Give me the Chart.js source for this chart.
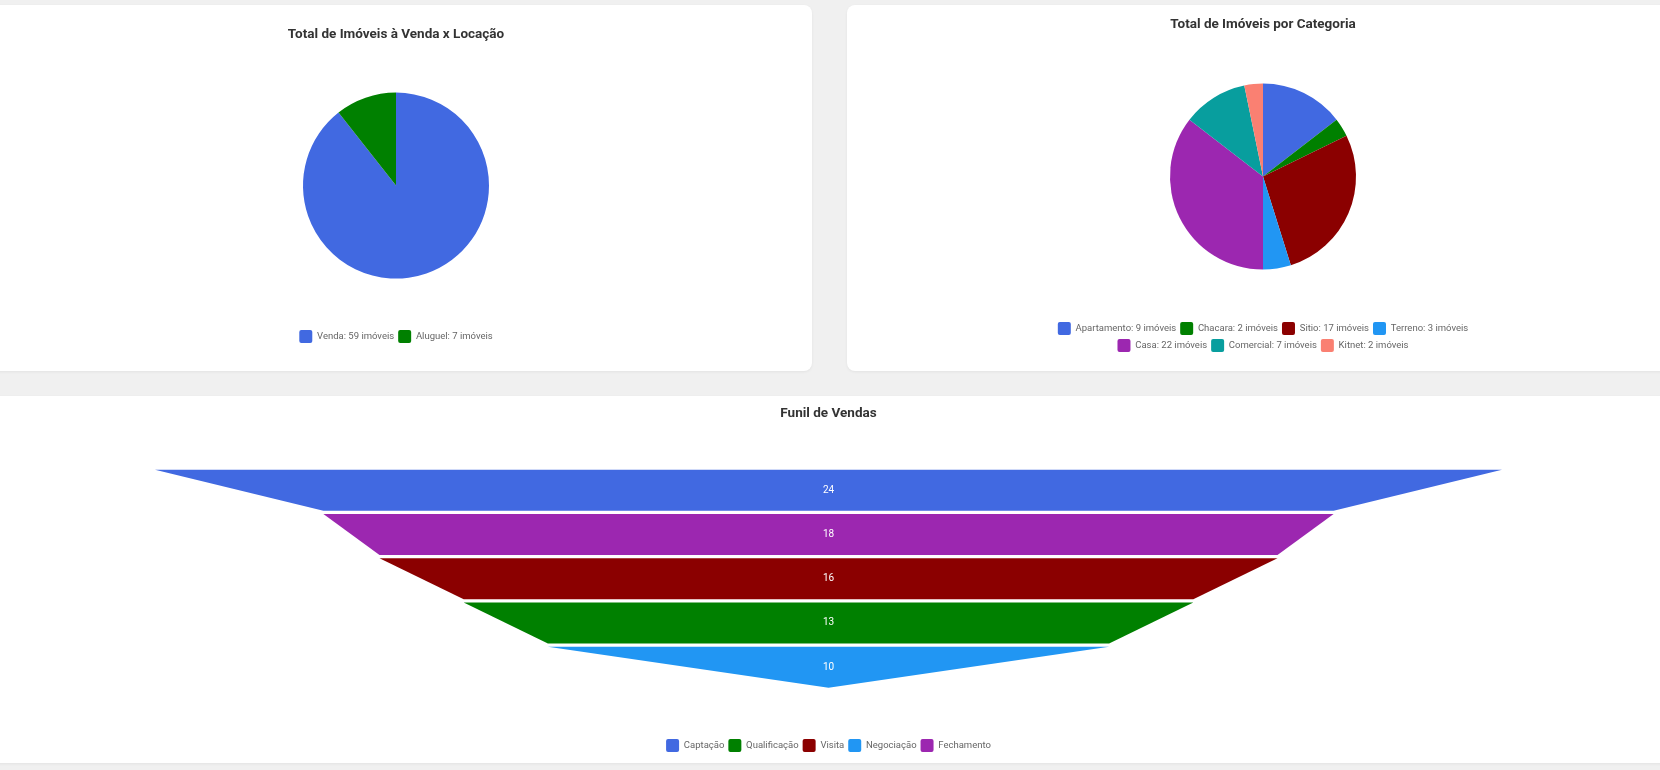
<!DOCTYPE html>
<html lang="pt-BR">
<head>
<meta charset="utf-8">
<title>Painel de Imóveis</title>
<script src="https://cdn.jsdelivr.net/npm/chart.js@4.4.1/dist/chart.umd.min.js"></script>
<style>
  html, body { margin: 0; padding: 0; width: 1660px; height: 770px; overflow: hidden; background: #f0f0f0; }
  .card { position: absolute; background: #fff; border-radius: 8px; box-shadow: 0 1px 3px rgba(0, 0, 0, 0.06); }
  .card .box { position: relative; width: 100%; height: 100%; }
  #card1 { left: -20px; top: 5px; width: 832px; height: 366px; }
  #card2 { left: 847px; top: 5px; width: 832px; height: 366px; }
  #card3 { left: -20px; top: 396px; width: 1700px; height: 367px; }
</style>
</head>
<body>
<div class="card" id="card1"><div class="box"><canvas id="tipoChart"></canvas></div></div>
<div class="card" id="card2"><div class="box"><canvas id="categoriaChart"></canvas></div></div>
<div class="card" id="card3"><div class="box"><canvas id="funilChart"></canvas></div></div>
<script>
// dados
const tipoLabels = ['Venda', 'Aluguel'];
const tipoValues = [59, 7];
const tipoColors = ['#4169E1', '#008000'];

const categoriaLabels = ['Apartamento', 'Chacara', 'Sitio', 'Terreno', 'Casa', 'Comercial', 'Kitnet'];
const categoriaValues = [9, 2, 17, 3, 22, 7, 2];
const categoriaColors = ['#4169E1', '#008000', '#8B0000', '#2196F3', '#9C27B0', '#089E9E', '#FA8072'];

const funilLabels = ['Captação', 'Qualificação', 'Visita', 'Negociação', 'Fechamento'];
const funilValues = [24, 13, 16, 10, 18];
const funilColors = ['#4169E1', '#008000', '#8B0000', '#2196F3', '#9C27B0'];

Chart.defaults.font.family = 'Roboto';
Chart.defaults.animation = false;

const titleFont = { family: 'Roboto', size: 13.5, weight: 'bold' };
const legendFont = { family: 'Roboto', size: 9.5 };

function legendLabels(extra) {
    return { boxWidth: 13, boxHeight: 13, padding: 4, useBorderRadius: true, borderRadius: 2, color: '#666', font: legendFont, ...extra };
}

function initPie(id, labels, values, colors, title, padding) {
    return new Chart(document.getElementById(id), {
        type: 'pie',
        data: { labels: labels, datasets: [{ data: values, backgroundColor: colors, borderWidth: 0, radius: 93 }] },
        options: {
            responsive: true, maintainAspectRatio: false,
            layout: { padding: padding },
            plugins: {
                title: { display: true, text: title, color: '#333', font: titleFont, padding: { top: 10, bottom: 2 } },
                legend: {
                    position: 'bottom',
                    labels: legendLabels({
                        generateLabels: chart => Chart.overrides.pie.plugins.legend.labels.generateLabels(chart)
                            .map(item => ({ ...item, borderRadius: 2, text: `${item.text}: ${values[item.index]} imóveis` }))
                    })
                },
                tooltip: { enabled: false }
            }
        }
    });
}

initPie('tipoChart', tipoLabels, tipoValues, tipoColors, 'Total de Imóveis à Venda x Locação', { top: 12, bottom: 18 });
initPie('categoriaChart', categoriaLabels, categoriaValues, categoriaColors, 'Total de Imóveis por Categoria', { top: 2, bottom: 9, left: 195, right: 195 });

// funil: ordena as etapas do maior para o menor
const funilOrder = funilValues.map((v, i) => i).sort((a, b) => funilValues[b] - funilValues[a]);

const funnelPlugin = {
    id: 'funnel',
    afterDatasetsDraw(chart) {
        const { ctx, scales: { x, y } } = chart;
        const data = chart.data.datasets[0].data;
        const half = 0.464;
        ctx.save();
        data.forEach((d, pos) => {
            const next = pos + 1 < data.length ? data[pos + 1].x : 0;
            const y0 = y.getPixelForValue(d.y - half);
            const y1 = y.getPixelForValue(d.y + half);
            ctx.beginPath();
            ctx.moveTo(x.getPixelForValue(-d.x / 2), y0);
            ctx.lineTo(x.getPixelForValue(d.x / 2), y0);
            ctx.lineTo(x.getPixelForValue(next / 2), y1);
            ctx.lineTo(x.getPixelForValue(-next / 2), y1);
            ctx.closePath();
            ctx.fillStyle = funilColors[funilOrder[pos]];
            ctx.fill();
            ctx.fillStyle = '#fff';
            ctx.font = '10px Roboto';
            ctx.textAlign = 'center';
            ctx.textBaseline = 'middle';
            ctx.fillText(String(d.x), x.getPixelForValue(0), y.getPixelForValue(d.y));
        });
        ctx.restore();
    }
};

new Chart(document.getElementById('funilChart'), {
    type: 'bar',
    data: {
        datasets: [{
            label: 'Funil de Vendas',
            data: funilOrder.map((idx, pos) => ({ x: funilValues[idx], y: pos })),
            backgroundColor: 'rgba(0,0,0,0)'
        }]
    },
    options: {
        indexAxis: 'y',
        responsive: true, maintainAspectRatio: false,
        layout: { padding: { top: 0, bottom: 1, left: 175, right: 178 } },
        scales: {
            x: { type: 'linear', min: -12, max: 12, offset: false, display: false },
            y: { type: 'linear', reverse: true, min: -1.314, max: 5.534, offset: false, display: false }
        },
        plugins: {
            title: { display: true, text: 'Funil de Vendas', color: '#333', font: titleFont, padding: { top: 10, bottom: 10 } },
            legend: {
                position: 'bottom',
                onClick: () => {},
                labels: legendLabels({
                    generateLabels: () => funilLabels.map((text, i) => ({
                        text: text, fillStyle: funilColors[i], strokeStyle: funilColors[i], lineWidth: 0,
                        borderRadius: 2, fontColor: '#666', hidden: false, index: i
                    }))
                })
            },
            tooltip: { enabled: false }
        }
    },
    plugins: [funnelPlugin]
});
</script>
</body>
</html>
